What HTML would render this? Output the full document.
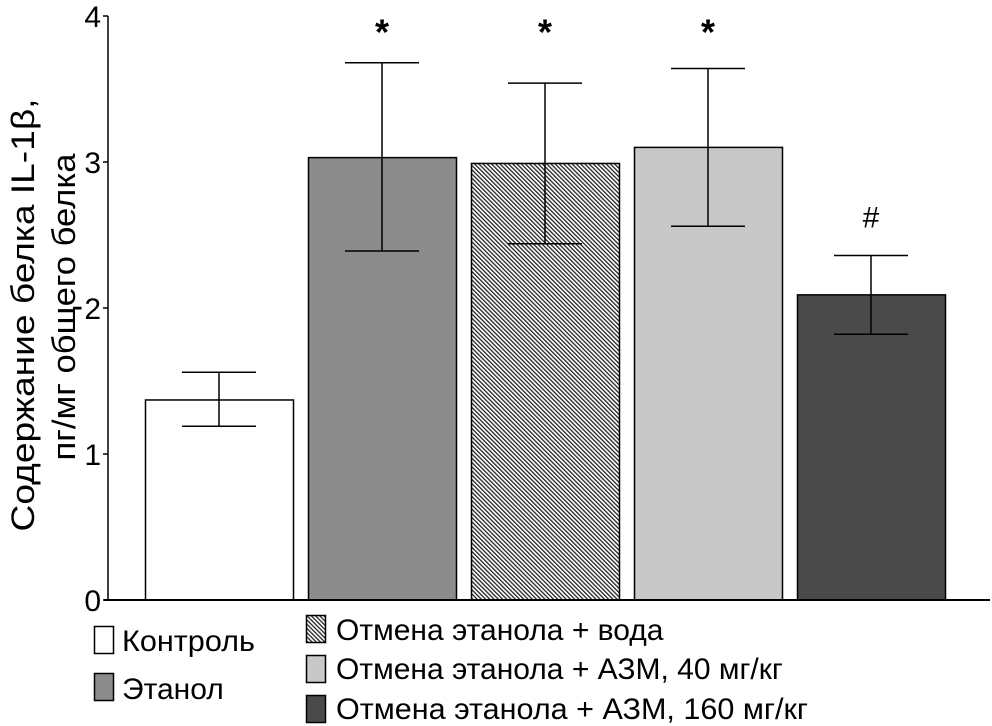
<!DOCTYPE html>
<html><head><meta charset="utf-8"><style>
body{margin:0;background:#fff}
svg{display:block;font-family:"Liberation Sans",Arial,sans-serif}
</style></head><body>
<svg width="992" height="726" viewBox="0 0 992 726">
<defs>
<pattern id="hatch" patternUnits="userSpaceOnUse" width="3" height="3" patternTransform="rotate(-45)">
<rect width="3" height="3" fill="#fff"/><rect width="1.3" height="3" fill="#222"/>
</pattern>
</defs>
<g id="bars"></g>
<g id="axis"></g>
<g transform="translate(0,315) rotate(-90)" style="font-size:32px" text-anchor="middle">
<text x="0" y="34" textLength="433" lengthAdjust="spacingAndGlyphs">Содержание белка IL-1β,</text>
<text x="8" y="75" textLength="307" lengthAdjust="spacingAndGlyphs">пг/мг общего белка</text>
</g>
<g style="font-size:30px">
<g><rect x="94.5" y="626.5" width="19" height="27" fill="#fff" stroke="#000" stroke-width="1.5"/><text x="122" y="651" textLength="133" lengthAdjust="spacingAndGlyphs">Контроль</text></g>
<g><rect x="94.5" y="673.5" width="19" height="27" fill="#8c8c8c" stroke="#000" stroke-width="1.5"/><text x="122" y="699">Этанол</text></g>
<g><rect x="306.5" y="615.5" width="19" height="27" fill="url(#hatch)" stroke="#000" stroke-width="1.5"/><text x="336" y="640">Отмена этанола + вода</text></g>
<g><rect x="306.5" y="655.5" width="19" height="27" fill="#c8c8c8" stroke="#000" stroke-width="1.5"/><text x="336" y="679">Отмена этанола + АЗМ, 40 мг/кг</text></g>
<g><rect x="306.5" y="695.5" width="19" height="27" fill="#4a4a4a" stroke="#000" stroke-width="1.5"/><text x="336" y="719" textLength="472" lengthAdjust="spacingAndGlyphs">Отмена этанола + АЗМ, 160 мг/кг</text></g>
</g>
</svg>
<script>
const categories = ["Контроль","Этанол","Отмена этанола + вода","Отмена этанола + АЗМ, 40 мг/кг","Отмена этанола + АЗМ, 160 мг/кг"];
const values = [1.37, 3.03, 2.99, 3.10, 2.09];
const errLow = [1.19, 2.39, 2.44, 2.56, 1.82];
const errHigh = [1.56, 3.68, 3.54, 3.64, 2.36];
const marks = ["", "*", "*", "*", "#"];
const fills = ["#fff", "#8c8c8c", "url(#hatch)", "#c8c8c8", "#4a4a4a"];
const yTicks = [0, 1, 2, 3, 4];

const NS = "http://www.w3.org/2000/svg";
const y0 = 600, yTop = 16, yMax = 4;
const yScale = v => y0 - (v / yMax) * (y0 - yTop);
const band = 163, barStart = 145, barW = 148;
const xScale = i => barStart + i * band;
function mk(tag, attrs, parent){const e=document.createElementNS(NS,tag);for(const k in attrs)e.setAttribute(k,attrs[k]);parent.appendChild(e);return e;}
const bars = document.getElementById('bars');
values.forEach((v,i)=>{
  const x = xScale(i), yv = yScale(v);
  const r = mk('rect',{x:x+0.5,y:yv,width:barW,height:y0-yv,fill:fills[i],stroke:'#000','stroke-width':1.5},bars);
  
  
  const cx = x + barW/2, yl = yScale(errLow[i]), yh = yScale(errHigh[i]);
  const g = mk('g',{stroke:'#000','stroke-width':1.5},bars);
  
  
  mk('line',{x1:cx,x2:cx,y1:yh,y2:yl},g);
  mk('line',{x1:cx-37,x2:cx+37,y1:yh,y2:yh},g);
  mk('line',{x1:cx-37,x2:cx+37,y1:yl,y2:yl},g);
  if(marks[i]){
    const t = mk('text',{x:cx,'text-anchor':'middle'},bars);
    if(marks[i]==='*'){t.setAttribute('y',yScale(3.68)-18);t.setAttribute('style','font-size:36px;font-weight:bold');}
    else {t.setAttribute('y',yh-28);t.setAttribute('style','font-size:30px');}
    t.textContent = marks[i];
    
    
  }
});
const ax = document.getElementById('axis');
mk('line',{x1:108,x2:108,y1:yTop,y2:y0,stroke:'#000','stroke-width':1.5},ax);
mk('line',{x1:104,x2:990,y1:y0,y2:y0,stroke:'#000','stroke-width':2},ax);
yTicks.forEach(t=>{
  const y = yScale(t);
  mk('line',{x1:103,x2:108,y1:y,y2:y,stroke:'#000','stroke-width':1.5},ax);
  const tx = mk('text',{x:101,y:y+11,'text-anchor':'end',style:'font-size:30px'},ax);
  tx.textContent = t;
  
  
});
</script>
</body></html>
